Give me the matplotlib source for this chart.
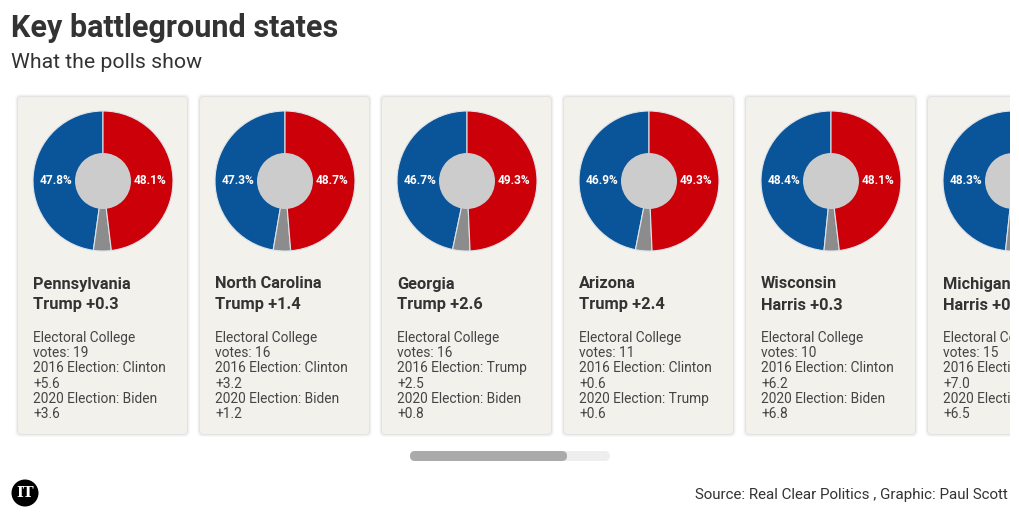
import matplotlib.pyplot as plt
from matplotlib.patches import FancyBboxPatch, Circle, Rectangle

# Poll data per state
states = ["Pennsylvania", "North Carolina", "Georgia", "Arizona", "Wisconsin", "Michigan"]
harris = [47.8, 47.3, 46.7, 46.9, 48.4, 48.3]
trump = [48.1, 48.7, 49.3, 49.3, 48.1, 47.9]
leaders = ["Trump +0.3", "Trump +1.4", "Trump +2.6", "Trump +2.4", "Harris +0.3", "Harris +0.4"]
votes = [19, 16, 16, 11, 10, 15]
e2016 = ["Clinton", "Clinton", "Trump", "Clinton", "Clinton", "Clinton"]
m2016 = [5.6, 3.2, 2.5, 0.6, 6.2, 7.0]
e2020 = ["Biden", "Biden", "Biden", "Trump", "Biden", "Biden"]
m2020 = [3.6, 1.2, 0.8, 0.6, 6.8, 6.5]

BLUE = "#0a5599"
RED = "#cc0009"
GREY = "#8c8c8c"
HOLE = "#cccccc"
CARD = "#f2f1ec"
DARK = "#333333"

W, H = 1020, 521
fig = plt.figure(figsize=(W / 100, H / 100), dpi=100)
ax = fig.add_axes([0, 0, 1, 1])

def Y(y):
  return H - y

font = "Roboto"

fig.text(11 / W, 1 - 28 / H, "Key battleground states", fontsize=22, fontweight="bold",
         color=DARK, family=font, va="center", ha="left")
fig.text(11 / W, 1 - 63 / H, "What the polls show", fontsize=15.3,
         color=DARK, family=font, va="center", ha="left")

for i, st in enumerate(states):
  x0 = 18 + 182 * i
  # soft shadow + card
  for k, a in ((3, 0.025), (2, 0.035), (1, 0.05)):
    ax.add_patch(FancyBboxPatch((x0 - k, Y(434) - k), 169 + 2 * k, 337 + 2 * k,
                                boxstyle="round,pad=0,rounding_size=5", fc="#000000",
                                ec="none", alpha=a, zorder=1))
  ax.add_patch(FancyBboxPatch((x0, Y(434)), 169, 337, boxstyle="round,pad=0,rounding_size=4",
                              fc=CARD, ec="none", zorder=2))

  cx, cy = x0 + 85, Y(181)
  other = 100 - harris[i] - trump[i]
  wedges, _ = ax.pie([harris[i], other, trump[i]], colors=[BLUE, GREY, RED], startangle=90,
                     counterclock=True, center=(cx, cy), radius=70, frame=True,
                     wedgeprops=dict(linewidth=0.8, edgecolor="#dde3ea"))
  for w in wedges:
    w.set_zorder(3)
  ax.add_patch(Circle((cx, cy), 28, fc=HOLE, ec="none", zorder=4))
  for px, val in ((cx - 47, harris[i]), (cx + 47, trump[i])):
    ax.text(px, cy, f"{val:.1f}%", color="white", fontsize=8.6, fontweight="bold",
            family=font, ha="center", va="center", zorder=5)

  tx = x0 + 15
  for yy, s in ((284, st), (305, leaders[i])):
    ax.text(tx, Y(yy), s, fontsize=11.8, fontweight="bold", color=DARK, family=font,
            ha="left", va="center", zorder=5)
  lines = ["Electoral College", f"votes: {votes[i]}",
           f"2016 Election: {e2016[i]}", f"+{m2016[i]:.1f}",
           f"2020 Election: {e2020[i]}", f"+{m2020[i]:.1f}"]
  for j, s in enumerate(lines):
    ax.text(tx, Y(338 + 15.2 * j), s, fontsize=9.9, color="#454545", family=font,
            ha="left", va="center", zorder=5)

# the scroll container ends before the right edge
ax.add_patch(Rectangle((1010, 80), 20, 400, fc="white", ec="none", zorder=10))

# scroll bar
ax.add_patch(FancyBboxPatch((410, Y(461)), 200, 10, boxstyle="round,pad=0,rounding_size=5",
                            fc="#eeeeee", ec="none", zorder=2))
ax.add_patch(FancyBboxPatch((410, Y(461)), 157, 10, boxstyle="round,pad=0,rounding_size=5",
                            fc="#aaaaaa", ec="none", zorder=3))

# logo
ax.add_patch(Circle((25, Y(493)), 13.5, fc="black", ec="none", zorder=3))
ax.text(25, Y(493), "IT", color="white", fontsize=10.5, fontweight="bold",
        family="DejaVu Serif", ha="center", va="center", zorder=4)

ax.text(1008, Y(495), "Source: Real Clear Politics , Graphic: Paul Scott", fontsize=10.9,
        color=DARK, family=font, ha="right", va="center", zorder=11)

ax.set_xlim(0, W)
ax.set_ylim(0, H)
ax.set_aspect("auto")
ax.axis("off")

fig.savefig("out.png", dpi=100, facecolor="white")
